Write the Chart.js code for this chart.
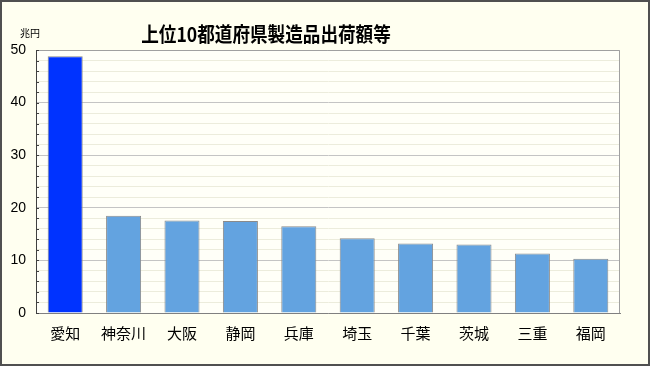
<!DOCTYPE html>
<html>
<head>
<meta charset="utf-8">
<script src="https://cdn.jsdelivr.net/npm/chart.js@4"></script>
<style>
  html, body { margin: 0; padding: 0; background: #fffff0; }
  #wrap { width: 650px; height: 366px; }
</style>
</head>
<body>
<div id="wrap"><canvas id="myBarChart" width="650" height="366"></canvas></div>
<script>
// chart data
var prefectures = ["愛知", "神奈川", "大阪", "静岡", "兵庫", "埼玉", "千葉", "茨城", "三重", "福岡"];
var shipments = [48.8, 18.5, 17.6, 17.5, 16.5, 14.2, 13.2, 13.0, 11.3, 10.3];
var yTickLabels = [0, 10, 20, 30, 40, 50];
var titleText = "上位10都道府県製造品出荷額等";
var unitText = "兆円";

var barColors = prefectures.map(function (p, i) {
  return i === 0 ? "#0033ff" : "#63a3e0";
});

// background, frame, title, unit, inner tick marks
var decorPlugin = {
  id: "decor",
  beforeDraw: function (chart) {
    var c = chart.ctx;
    var a = chart.chartArea;
    c.save();
    c.fillStyle = "#fffff0";
    c.fillRect(0, 0, chart.width, chart.height);
    c.fillStyle = "#fffff8";
    c.fillRect(a.left, a.top, a.right - a.left, a.bottom - a.top);
    c.restore();
  },
  afterDraw: function (chart) {
    var c = chart.ctx;
    var a = chart.chartArea;
    var y = chart.scales.y;
    c.save();
    // plot frame top/right
    c.strokeStyle = "#a0a0a0";
    c.lineWidth = 1;
    c.beginPath();
    c.moveTo(a.left, a.top + 0.5);
    c.lineTo(a.right - 0.5, a.top + 0.5);
    c.lineTo(a.right - 0.5, a.bottom);
    c.stroke();
    // inner ticks
    c.strokeStyle = "#404040";
    c.beginPath();
    y.ticks.forEach(function (t) {
      var py = Math.round(y.getPixelForValue(t.value)) + 0.5;
      c.moveTo(a.left, py);
      c.lineTo(a.left + 3, py);
    });
    c.stroke();
    // outer frame
    c.strokeStyle = "#505050";
    c.lineWidth = 2;
    c.strokeRect(1, 1, chart.width - 2, chart.height - 2);
    // title (slightly condensed)
    c.fillStyle = "#000";
    c.textAlign = "center";
    c.textBaseline = "middle";
    c.save();
    c.translate(266, 34);
    c.scale(0.88, 1);
    c.font = "bold 20px 'Noto Sans CJK JP'";
    c.fillText(titleText, 0, 0);
    c.restore();
    c.font = "10px 'Noto Sans CJK JP'";
    c.fillText(unitText, 30, 33);
    c.restore();
  }
};

var ctx = document.getElementById("myBarChart").getContext("2d");
var myBarChart = new Chart(ctx, {
  type: "bar",
  data: {
    labels: prefectures,
    datasets: [
      {
        data: shipments,
        backgroundColor: barColors,
        borderColor: "#8a8a8a",
        borderWidth: 1,
        barPercentage: 0.6,
        categoryPercentage: 1.0,
      },
    ],
  },
  options: {
    responsive: false,
    animation: false,
    layout: {
      padding: { top: 50, right: 30, left: 0, bottom: 0 },
    },
    scales: {
      x: {
        afterFit: function (s) { s.height = 53; },
        grid: { display: false, drawTicks: false },
        border: { color: "#808080" },
        ticks: {
          padding: 11,
          color: "#000",
          font: { family: "'Noto Sans CJK JP'", size: 15 },
        },
      },
      y: {
        min: 0,
        max: 50,
        afterFit: function (s) { s.width = 36; },
        border: { color: "#404040" },
        grid: {
          drawTicks: false,
          color: function (c) {
            return c.tick && c.tick.value % 10 === 0 ? "#c4c4c4" : "#ececdc";
          },
        },
        ticks: {
          stepSize: 2,
          padding: 10,
          autoSkip: false,
          color: "#000",
          font: { family: "'Liberation Sans'", size: 14 },
          callback: function (v) {
            return yTickLabels.indexOf(v) >= 0 ? v : "";
          },
        },
      },
    },
    plugins: {
      legend: { display: false },
      tooltip: { enabled: false },
    },
  },
  plugins: [decorPlugin],
});
</script>
</body>
</html>
